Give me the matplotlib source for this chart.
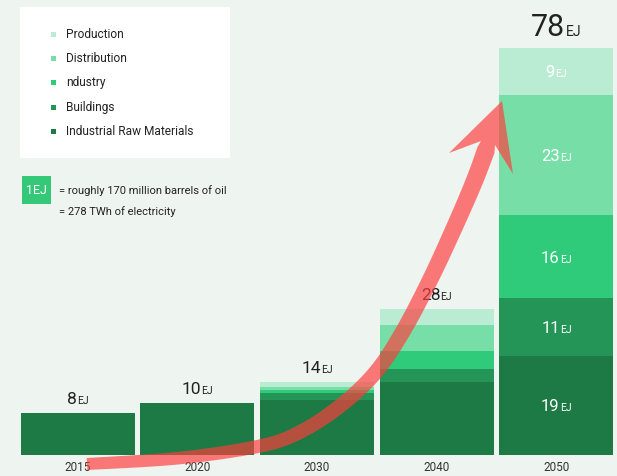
import matplotlib.pyplot as plt
import numpy as np
from matplotlib.patches import Rectangle, Polygon
from matplotlib.transforms import ScaledTranslation

plt.rcParams['font.family'] = ['Roboto', 'DejaVu Sans']

# energy demand by sector (EJ)
years = ['2015', '2020', '2030', '2040', '2050']
totals = [8, 10, 14, 28, 78]
sectors = ['Industrial Raw Materials', 'Buildings', 'ndustry', 'Distribution', 'Production']
raw_materials = [8, 10, 10.5, 14, 19]
buildings = [0, 0, 1.3, 2.5, 11]
industry = [0, 0, 0.7, 3.5, 16]
distribution = [0, 0, 0.6, 5, 23]
production = [0, 0, 0.9, 3, 9]
series = [raw_materials, buildings, industry, distribution, production]
colors = ['#1d7a45', '#259457', '#2fcb7b', '#78dea8', '#b9ecd3']

bg = '#eef5f1'
W, H = 617, 476
fig = plt.figure(figsize=(W / 100, H / 100), dpi=100, facecolor=bg)
ax = fig.add_axes([18 / W, 21 / H, 598 / W, 455 / H])
ax.set_facecolor(bg)

x = np.arange(len(years))
bottom = np.zeros(len(years))
for vals, col in zip(series, colors):
    ax.bar(x, vals, width=0.953, bottom=bottom, color=col, linewidth=0)
    bottom += np.array(vals)

ax.set_xlim(-0.5, len(years) - 0.5)
ax.set_ylim(0, 87.2)
ax.set_xticks(x)
ax.set_xticklabels(years, fontsize=8.5, color='#333333')
ax.tick_params(axis='x', length=0, pad=4)
ax.set_yticks([])
for s in ax.spines.values():
    s.set_visible(False)

renderer = fig.canvas.get_renderer()


def ej_label(xv, yv, num, size, color, dy=0.0, unit_size=None):
    # number followed by a smaller "EJ", centred on xv
    unit_size = unit_size or size * 0.6
    t1 = ax.text(xv, yv, num, fontsize=size, color=color, ha='left', va='baseline')
    t2 = ax.text(xv, yv, 'EJ', fontsize=unit_size, color=color, ha='left', va='baseline')
    w1 = t1.get_window_extent(renderer).width
    w2 = t2.get_window_extent(renderer).width
    total = w1 + w2
    t1.set_transform(ax.transData + ScaledTranslation(-total / 2 / 100, dy / 72, fig.dpi_scale_trans))
    t2.set_transform(ax.transData + ScaledTranslation((-total / 2 + w1) / 100, dy / 72, fig.dpi_scale_trans))


for i, tot in enumerate(totals[:-1]):
    ej_label(x[i], bottom[i], str(tot), 12.5, '#222222', dy=6.5)
ej_label(x[-1], bottom[-1], str(totals[-1]), 22, '#222222', dy=9, unit_size=10)

# values inside the 2050 column
base = 0
for vals in series:
    v = vals[-1]
    ej_label(x[-1], base + v / 2, f'{v:g}', 12, 'white', dy=-4.3, unit_size=7.5)
    base += v

# overlay in pixel coordinates for legend, note and arrow
ov = fig.add_axes([0, 0, 1, 1], zorder=5)
ov.set_xlim(0, W)
ov.set_ylim(H, 0)
ov.axis('off')
ov.patch.set_alpha(0)

ov.add_patch(Rectangle((20, 7), 210, 151, facecolor='white', edgecolor='none'))
for k, (name, col) in enumerate(zip(sectors[::-1], colors[::-1])):
    yy = 34 + k * 24.4
    ov.add_patch(Rectangle((51, yy - 2.5), 5, 5, facecolor=col, edgecolor='none'))
    ov.text(66, yy, name, fontsize=8.6, color='#222222', va='center', ha='left')

ov.add_patch(Rectangle((22, 176), 29, 28, facecolor='#35c878', edgecolor='none'))
ov.text(36.5, 190, '1EJ', fontsize=9, color='white', va='center', ha='center')
ov.text(59, 191, '= roughly 170 million barrels of oil', fontsize=8, color='#222222', va='center')
ov.text(59, 212, '= 278 TWh of electricity', fontsize=8, color='#222222', va='center')

# growth arrow: smooth centreline through guide points, thickened into a polygon
guide = np.array([(87, 464), (180, 458), (260, 446), (300, 432), (340, 406),
                  (375, 373), (402, 333), (430, 280), (455, 226), (474, 182), (486, 150)], float)


def catmull_rom(pts, n=20):
    p = np.vstack([pts[0], pts, pts[-1]])
    out = []
    for i in range(1, len(p) - 2):
        p0, p1, p2, p3 = p[i - 1], p[i], p[i + 1], p[i + 2]
        for t in np.linspace(0, 1, n, endpoint=False):
            t2, t3 = t * t, t * t * t
            out.append(0.5 * ((2 * p1) + (-p0 + p2) * t + (2 * p0 - 5 * p1 + 4 * p2 - p3) * t2
                              + (-p0 + 3 * p1 - 3 * p2 + p3) * t3))
    out.append(pts[-1])
    return np.array(out)


c = catmull_rom(guide)
d = np.gradient(c, axis=0)
d /= np.linalg.norm(d, axis=1)[:, None]
nrm = np.column_stack([-d[:, 1], d[:, 0]])
w = np.linspace(12, 18, len(c))[:, None]
side_a = c + nrm * w / 2
side_b = c - nrm * w / 2
head = np.array([(495, 145), (513, 174), (502, 101), (449, 153), (481, 141)], float)
poly = np.vstack([side_a, head, side_b[::-1]])
ov.add_patch(Polygon(poly, closed=True, facecolor='#ff3d3d', edgecolor='none', alpha=0.68))

fig.savefig('out.png', dpi=100, facecolor=bg)
